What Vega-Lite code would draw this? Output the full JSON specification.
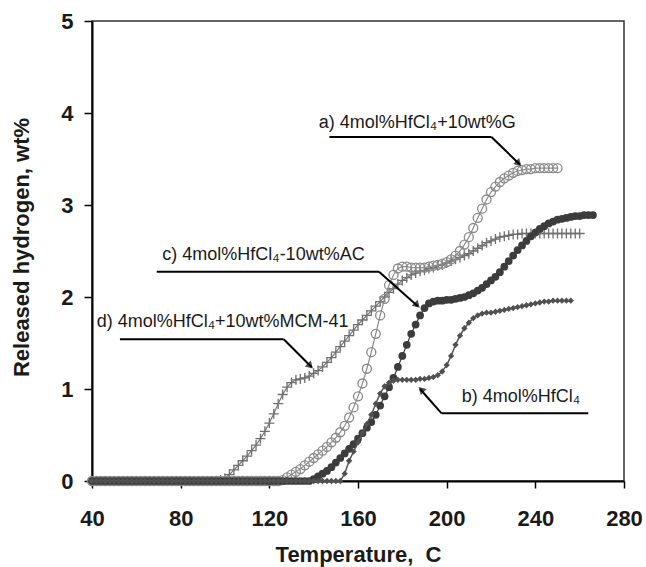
{
"$schema":"https://vega.github.io/schema/vega-lite/v6.json",
"width":532,"height":460,
"autosize":{"type":"none"},
"padding":{"left":92,"top":21,"right":22,"bottom":86},
"background":"white",
"datasets":{
"a":[{"T":40,"v":0},{"T":42,"v":0},{"T":44,"v":0},{"T":46,"v":0},{"T":48,"v":0},{"T":50,"v":0},{"T":52,"v":0},{"T":54,"v":0},{"T":56,"v":0},{"T":58,"v":0},{"T":60,"v":0},{"T":62,"v":0},{"T":64,"v":0},{"T":66,"v":0},{"T":68,"v":0},{"T":70,"v":0},{"T":72,"v":0},{"T":74,"v":0},{"T":76,"v":0},{"T":78,"v":0},{"T":80,"v":0},{"T":82,"v":0},{"T":84,"v":0},{"T":86,"v":0},{"T":88,"v":0},{"T":90,"v":0},{"T":92,"v":0},{"T":94,"v":0},{"T":96,"v":0},{"T":98,"v":0},{"T":100,"v":0},{"T":102,"v":0},{"T":104,"v":0},{"T":106,"v":0},{"T":108,"v":0},{"T":110,"v":0},{"T":112,"v":0},{"T":114,"v":0},{"T":116,"v":0},{"T":118,"v":0},{"T":120,"v":0},{"T":122,"v":0},{"T":124,"v":0},
{"T":126,"v":0.01},{"T":128,"v":0.04},{"T":130,"v":0.07},{"T":132,"v":0.10},{"T":134,"v":0.13},{"T":136,"v":0.17},{"T":138,"v":0.21},{"T":140,"v":0.25},{"T":142,"v":0.29},{"T":144,"v":0.33},{"T":146,"v":0.37},{"T":148,"v":0.42},{"T":150,"v":0.47},{"T":152,"v":0.53},{"T":154,"v":0.60},{"T":156,"v":0.69},{"T":158,"v":0.80},{"T":160,"v":0.92},{"T":162,"v":1.06},{"T":164,"v":1.22},{"T":166,"v":1.40},{"T":168,"v":1.60},{"T":170,"v":1.80},{"T":172,"v":1.98},{"T":174,"v":2.13},{"T":176,"v":2.24},{"T":178,"v":2.31},{"T":180,"v":2.33},{"T":182,"v":2.33},{"T":184,"v":2.32},{"T":186,"v":2.32},{"T":188,"v":2.32},{"T":190,"v":2.32},{"T":192,"v":2.33},{"T":194,"v":2.34},{"T":196,"v":2.35},{"T":198,"v":2.36},{"T":200,"v":2.38},{"T":202,"v":2.41},{"T":204,"v":2.45},{"T":206,"v":2.50},{"T":208,"v":2.57},{"T":210,"v":2.65},{"T":212,"v":2.75},{"T":214,"v":2.86},{"T":216,"v":2.96},{"T":218,"v":3.06},{"T":220,"v":3.14},{"T":222,"v":3.20},{"T":224,"v":3.25},{"T":226,"v":3.29},{"T":228,"v":3.32},{"T":230,"v":3.35},{"T":232,"v":3.37},{"T":234,"v":3.38},{"T":236,"v":3.39},{"T":238,"v":3.39},{"T":240,"v":3.40},{"T":242,"v":3.40},{"T":244,"v":3.40},{"T":246,"v":3.40},{"T":248,"v":3.40},{"T":250,"v":3.40}],
"d":[{"T":40,"v":0},{"T":42,"v":0},{"T":44,"v":0},{"T":46,"v":0},{"T":48,"v":0},{"T":50,"v":0},{"T":52,"v":0},{"T":54,"v":0},{"T":56,"v":0},{"T":58,"v":0},{"T":60,"v":0},{"T":62,"v":0},{"T":64,"v":0},{"T":66,"v":0},{"T":68,"v":0},{"T":70,"v":0},{"T":72,"v":0},{"T":74,"v":0},{"T":76,"v":0},{"T":78,"v":0},{"T":80,"v":0},{"T":82,"v":0},{"T":84,"v":0},{"T":86,"v":0},{"T":88,"v":0},{"T":90,"v":0},{"T":92,"v":0},{"T":94,"v":0},{"T":96,"v":0},
{"T":98,"v":0.01},{"T":100,"v":0.03},{"T":102,"v":0.07},{"T":104,"v":0.12},{"T":106,"v":0.17},{"T":108,"v":0.22},{"T":110,"v":0.27},{"T":112,"v":0.33},{"T":114,"v":0.39},{"T":116,"v":0.46},{"T":118,"v":0.54},{"T":120,"v":0.63},{"T":122,"v":0.73},{"T":124,"v":0.84},{"T":126,"v":0.94},{"T":128,"v":1.02},{"T":130,"v":1.07},{"T":132,"v":1.10},{"T":134,"v":1.11},{"T":136,"v":1.12},{"T":138,"v":1.14},{"T":140,"v":1.17},{"T":142,"v":1.20},{"T":144,"v":1.24},{"T":146,"v":1.29},{"T":148,"v":1.34},{"T":150,"v":1.40},{"T":152,"v":1.46},{"T":154,"v":1.52},{"T":156,"v":1.58},{"T":158,"v":1.64},{"T":160,"v":1.70},{"T":162,"v":1.75},{"T":164,"v":1.80},{"T":166,"v":1.85},{"T":168,"v":1.90},{"T":170,"v":1.95},{"T":172,"v":2.00},{"T":174,"v":2.05},{"T":176,"v":2.09},{"T":178,"v":2.14},{"T":180,"v":2.18},{"T":182,"v":2.21},{"T":184,"v":2.24},{"T":186,"v":2.26},{"T":188,"v":2.28},{"T":190,"v":2.29},{"T":192,"v":2.31},{"T":194,"v":2.32},{"T":196,"v":2.34},{"T":198,"v":2.35},{"T":200,"v":2.37},{"T":202,"v":2.39},{"T":204,"v":2.41},{"T":206,"v":2.43},{"T":208,"v":2.45},{"T":210,"v":2.47},{"T":212,"v":2.50},{"T":214,"v":2.53},{"T":216,"v":2.56},{"T":218,"v":2.59},{"T":220,"v":2.61},{"T":222,"v":2.63},{"T":224,"v":2.65},{"T":226,"v":2.66},{"T":228,"v":2.67},{"T":230,"v":2.68},{"T":232,"v":2.68},{"T":234,"v":2.69},{"T":236,"v":2.69},{"T":238,"v":2.69},{"T":240,"v":2.69},{"T":242,"v":2.69},{"T":244,"v":2.69},{"T":246,"v":2.69},{"T":248,"v":2.69},{"T":250,"v":2.69},{"T":252,"v":2.69},{"T":254,"v":2.69},{"T":256,"v":2.69},{"T":258,"v":2.69},{"T":260,"v":2.69}],
"c":[{"T":40,"v":0},{"T":42,"v":0},{"T":44,"v":0},{"T":46,"v":0},{"T":48,"v":0},{"T":50,"v":0},{"T":52,"v":0},{"T":54,"v":0},{"T":56,"v":0},{"T":58,"v":0},{"T":60,"v":0},{"T":62,"v":0},{"T":64,"v":0},{"T":66,"v":0},{"T":68,"v":0},{"T":70,"v":0},{"T":72,"v":0},{"T":74,"v":0},{"T":76,"v":0},{"T":78,"v":0},{"T":80,"v":0},{"T":82,"v":0},{"T":84,"v":0},{"T":86,"v":0},{"T":88,"v":0},{"T":90,"v":0},{"T":92,"v":0},{"T":94,"v":0},{"T":96,"v":0},{"T":98,"v":0},{"T":100,"v":0},{"T":102,"v":0},{"T":104,"v":0},{"T":106,"v":0},{"T":108,"v":0},{"T":110,"v":0},{"T":112,"v":0},{"T":114,"v":0},{"T":116,"v":0},{"T":118,"v":0},{"T":120,"v":0},{"T":122,"v":0},{"T":124,"v":0},{"T":126,"v":0},{"T":128,"v":0},{"T":130,"v":0},{"T":132,"v":0},{"T":134,"v":0},{"T":136,"v":0},{"T":138,"v":0},
{"T":140,"v":0.02},{"T":142,"v":0.05},{"T":144,"v":0.08},{"T":146,"v":0.11},{"T":148,"v":0.15},{"T":150,"v":0.20},{"T":152,"v":0.25},{"T":154,"v":0.30},{"T":156,"v":0.35},{"T":158,"v":0.40},{"T":160,"v":0.46},{"T":162,"v":0.52},{"T":164,"v":0.58},{"T":166,"v":0.64},{"T":168,"v":0.72},{"T":170,"v":0.82},{"T":172,"v":0.92},{"T":174,"v":1.02},{"T":176,"v":1.12},{"T":178,"v":1.24},{"T":180,"v":1.36},{"T":182,"v":1.48},{"T":184,"v":1.60},{"T":186,"v":1.70},{"T":188,"v":1.80},{"T":190,"v":1.88},{"T":192,"v":1.93},{"T":194,"v":1.95},{"T":196,"v":1.96},{"T":198,"v":1.96},{"T":200,"v":1.97},{"T":202,"v":1.97},{"T":204,"v":1.98},{"T":206,"v":1.99},{"T":208,"v":2.00},{"T":210,"v":2.02},{"T":212,"v":2.04},{"T":214,"v":2.07},{"T":216,"v":2.10},{"T":218,"v":2.14},{"T":220,"v":2.18},{"T":222,"v":2.22},{"T":224,"v":2.27},{"T":226,"v":2.33},{"T":228,"v":2.39},{"T":230,"v":2.45},{"T":232,"v":2.51},{"T":234,"v":2.56},{"T":236,"v":2.61},{"T":238,"v":2.66},{"T":240,"v":2.70},{"T":242,"v":2.74},{"T":244,"v":2.77},{"T":246,"v":2.80},{"T":248,"v":2.82},{"T":250,"v":2.84},{"T":252,"v":2.85},{"T":254,"v":2.86},{"T":256,"v":2.87},{"T":258,"v":2.88},{"T":260,"v":2.88},{"T":262,"v":2.89},{"T":264,"v":2.89},{"T":266,"v":2.89}],
"b":[{"T":40,"v":0},{"T":42,"v":0},{"T":44,"v":0},{"T":46,"v":0},{"T":48,"v":0},{"T":50,"v":0},{"T":52,"v":0},{"T":54,"v":0},{"T":56,"v":0},{"T":58,"v":0},{"T":60,"v":0},{"T":62,"v":0},{"T":64,"v":0},{"T":66,"v":0},{"T":68,"v":0},{"T":70,"v":0},{"T":72,"v":0},{"T":74,"v":0},{"T":76,"v":0},{"T":78,"v":0},{"T":80,"v":0},{"T":82,"v":0},{"T":84,"v":0},{"T":86,"v":0},{"T":88,"v":0},{"T":90,"v":0},{"T":92,"v":0},{"T":94,"v":0},{"T":96,"v":0},{"T":98,"v":0},{"T":100,"v":0},{"T":102,"v":0},{"T":104,"v":0},{"T":106,"v":0},{"T":108,"v":0},{"T":110,"v":0},{"T":112,"v":0},{"T":114,"v":0},{"T":116,"v":0},{"T":118,"v":0},{"T":120,"v":0},{"T":122,"v":0},{"T":124,"v":0},{"T":126,"v":0},{"T":128,"v":0},{"T":130,"v":0},{"T":132,"v":0},{"T":134,"v":0},{"T":136,"v":0},{"T":138,"v":0},{"T":140,"v":0},{"T":142,"v":0},{"T":144,"v":0},{"T":146,"v":0},{"T":148,"v":0},{"T":150,"v":0},{"T":152,"v":0},
{"T":154,"v":0.08},{"T":156,"v":0.22},{"T":158,"v":0.32},{"T":160,"v":0.42},{"T":162,"v":0.52},{"T":164,"v":0.62},{"T":166,"v":0.72},{"T":168,"v":0.84},{"T":170,"v":0.95},{"T":172,"v":1.03},{"T":174,"v":1.07},{"T":176,"v":1.09},{"T":178,"v":1.10},{"T":180,"v":1.10},{"T":182,"v":1.10},{"T":184,"v":1.10},{"T":186,"v":1.10},{"T":188,"v":1.11},{"T":190,"v":1.11},{"T":192,"v":1.12},{"T":194,"v":1.13},{"T":196,"v":1.15},{"T":198,"v":1.19},{"T":200,"v":1.26},{"T":202,"v":1.36},{"T":204,"v":1.48},{"T":206,"v":1.58},{"T":208,"v":1.66},{"T":210,"v":1.72},{"T":212,"v":1.77},{"T":214,"v":1.80},{"T":216,"v":1.82},{"T":218,"v":1.83},{"T":220,"v":1.83},{"T":222,"v":1.84},{"T":224,"v":1.85},{"T":226,"v":1.86},{"T":228,"v":1.87},{"T":230,"v":1.88},{"T":232,"v":1.89},{"T":234,"v":1.90},{"T":236,"v":1.91},{"T":238,"v":1.92},{"T":240,"v":1.93},{"T":242,"v":1.94},{"T":244,"v":1.95},{"T":246,"v":1.95},{"T":248,"v":1.96},{"T":250,"v":1.96},{"T":252,"v":1.96},{"T":254,"v":1.96},{"T":256,"v":1.96}],
"seg":[{"T":147.1,"v":3.74,"T2":220.2,"v2":3.74},{"T":220.2,"v":3.74,"T2":233.0,"v2":3.44},
{"T":69.2,"v":2.275,"T2":169.5,"v2":2.275},{"T":169.5,"v":2.275,"T2":187.0,"v2":1.90},
{"T":52.6,"v":1.54,"T2":126.5,"v2":1.54},{"T":126.5,"v":1.54,"T2":139.0,"v2":1.24},
{"T":197.7,"v":0.736,"T2":263.9,"v2":0.736},{"T":197.7,"v":0.736,"T2":188.0,"v2":1.00}],
"tipDown":[{"T":232.5,"v":3.45},{"T":186.7,"v":1.91},{"T":138.5,"v":1.25}],
"tipUp":[{"T":188.5,"v":0.995}],
"lab":[{"T":142.3,"v":3.89,"label":"a) 4mol%HfCl₄+10wt%G"},{"T":71.7,"v":2.46,"label":"c) 4mol%HfCl₄-10wt%AC"},{"T":42.1,"v":1.73,"label":"d) 4mol%HfCl₄+10wt%MCM-41"},{"T":206.8,"v":0.916,"label":"b) 4mol%HfCl₄"}]
},
"encoding":{
"x":{"field":"T","type":"quantitative","scale":{"domain":[40,280],"nice":false,"zero":false},
"axis":{"values":[40,80,120,160,200,240,280],"tickSize":7,"labelPadding":37,"labelBaseline":"alphabetic","labelFlush":false,"labelOverlap":false,"title":"Temperature,\u00a0 C","titleBaseline":"alphabetic","titleY":80,"titleX":266,"titleAlign":"center"}},
"y":{"field":"v","type":"quantitative","scale":{"domain":[0,5],"nice":false},
"axis":{"values":[0,1,2,3,4,5],"tickSize":8,"labelPadding":11,"labelFlush":false,"labelOverlap":false,"title":"Released hydrogen, wt%","titleBaseline":"alphabetic","titleX":-64,"titleY":226,"titleAlign":"center","titleAngle":-90}}
},
"layer":[
{"data":{"name":"d"},"mark":{"type":"line","color":"#777777","strokeWidth":1.2,"point":{"shape":"M-1,0L1,0M0,-1L0,1","filled":false,"size":100,"stroke":"#707070","strokeWidth":1.3}}},
{"data":{"name":"a"},"mark":{"type":"line","color":"#8c8c8c","strokeWidth":1.2,"point":{"shape":"circle","filled":false,"fill":"transparent","size":81,"stroke":"#8a8a8a","strokeWidth":1.3}}},
{"data":{"name":"c"},"mark":{"type":"line","color":"#3a3a3a","strokeWidth":1.2,"point":{"shape":"circle","filled":true,"size":60,"color":"#3c3c3c"}}},
{"data":{"name":"b"},"mark":{"type":"line","color":"#555555","strokeWidth":1.5,"point":{"shape":"diamond","filled":true,"size":40,"color":"#505050"}}},
{"data":{"name":"seg"},"mark":{"type":"rule","color":"#000000","strokeWidth":2},"encoding":{"x2":{"field":"T2"},"y2":{"field":"v2"}}},
{"data":{"name":"tipDown"},"mark":{"type":"point","shape":"triangle-up","filled":true,"color":"#000000","size":70,"angle":135}},
{"data":{"name":"tipUp"},"mark":{"type":"point","shape":"triangle-up","filled":true,"color":"#000000","size":70,"angle":315}},
{"data":{"name":"lab"},"mark":{"type":"text","align":"left","baseline":"middle","font":"Liberation Sans","fontSize":18,"color":"#1a1a1a"},"encoding":{"text":{"field":"label"}}}
],
"config":{
"view":{"stroke":"#333333","strokeWidth":1.5},
"axis":{"grid":false,"domainColor":"#000000","domainWidth":2,"tickColor":"#000000","tickWidth":1.5,"labelFont":"Liberation Sans","labelFontWeight":"bold","labelFontSize":22,"labelColor":"#1a1a1a","titleFont":"Liberation Sans","titleFontWeight":"bold","titleFontSize":22,"titleColor":"#1a1a1a"}
}
}
